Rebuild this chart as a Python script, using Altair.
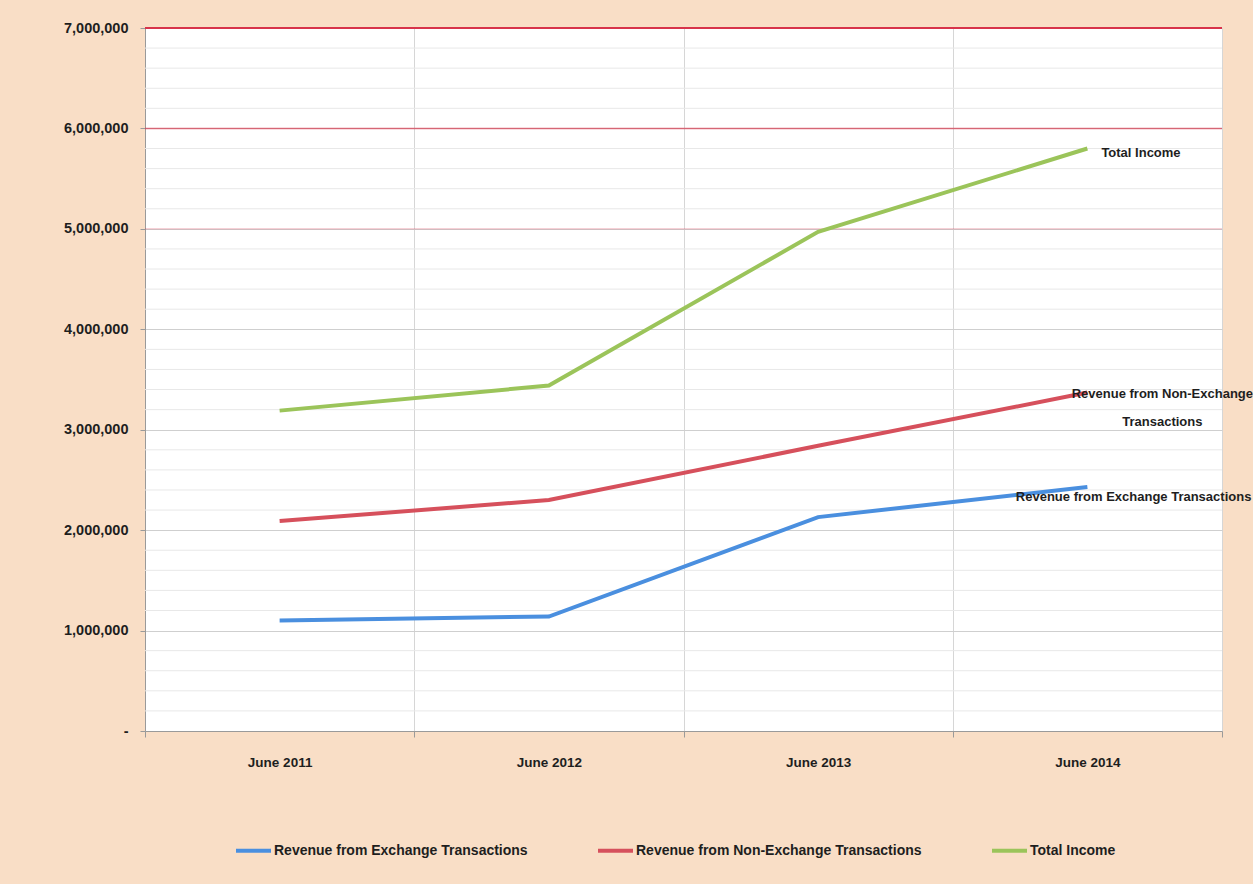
import altair as alt
import pandas as pd

# Reporting periods and the three income series
periods = ["June 2011", "June 2012", "June 2013", "June 2014"]
series_names = [
    "Revenue from Exchange Transactions",
    "Revenue from Non-Exchange Transactions",
    "Total Income",
]
exchange = [1_100_000, 1_140_000, 2_130_000, 2_430_000]
non_exchange = [2_090_000, 2_300_000, 2_840_000, 3_370_000]
total_income = [3_190_000, 3_440_000, 4_970_000, 5_800_000]

series_colors = ["#4a8fdf", "#d6505c", "#9bc45a"]
highlight_levels = [5_000_000, 6_000_000, 7_000_000]
major_ticks = list(range(0, 7_000_001, 1_000_000))
minor_ticks = [v for v in range(0, 7_000_001, 200_000) if v % 1_000_000]

rows = []
for name, vals in zip(series_names, [exchange, non_exchange, total_income]):
    for p, v in zip(periods, vals):
        rows.append({"period": p, "series": name, "value": v})
df = pd.DataFrame(rows)
levels_df = pd.DataFrame({"level": highlight_levels})
minor_df = pd.DataFrame({"level": minor_ticks})

FONT = "Liberation Sans, Arial, sans-serif"
TEXT_COLOR = "#1e1e1e"

y_scale = alt.Scale(domain=[0, 7_000_000], nice=False)
x_enc = alt.X(
    "period:N",
    sort=periods,
    scale=alt.Scale(type="band", paddingInner=0, paddingOuter=0),
    axis=alt.Axis(
        title=None,
        tickBand="extent",
        labelAngle=0,
        labelFont=FONT,
        labelFontSize=13.5,
        labelFontWeight="bold",
        labelColor=TEXT_COLOR,
        labelPadding=18,
        domainColor="#9a9a9a",
        tickColor="#9a9a9a",
        tickSize=6,
        grid=True,
        gridColor="#d6d6d6",
    ),
)
y_axis = alt.Axis(
    title=None,
    values=major_ticks,
    labelExpr="datum.value === 0 ? '-' : format(datum.value, ',')",
    labelOverlap=False,
    labelFont=FONT,
    labelFontSize=14.5,
    labelFontWeight="bold",
    labelColor=TEXT_COLOR,
    labelPadding=12,
    domainColor="#9a9a9a",
    tickColor="#9a9a9a",
    tickSize=5,
    gridColor="#cfcfcf",
    grid=True,
)

# Light minor gridlines every 200,000
minor_rules = alt.Chart(minor_df).mark_rule(color="#e8e8e8", strokeWidth=1).encode(
    y=alt.Y("level:Q", scale=y_scale, axis=y_axis)
)

# Emphasised red reference levels near the top
red_rules = alt.Chart(levels_df).mark_rule(color="#d8344a").encode(
    y=alt.Y("level:Q", scale=y_scale, axis=y_axis),
    strokeWidth=alt.StrokeWidth("level:Q", scale=alt.Scale(domain=[5_000_000, 7_000_000], range=[1, 2]), legend=None),
    strokeOpacity=alt.StrokeOpacity("level:Q", scale=alt.Scale(domain=[5_000_000, 7_000_000], range=[0.35, 1]), legend=None),
)

lines = alt.Chart(df).mark_line(strokeWidth=4).encode(
    x=x_enc,
    y=alt.Y("value:Q", scale=y_scale, axis=y_axis),
    color=alt.Color(
        "series:N",
        scale=alt.Scale(domain=series_names, range=series_colors),
        legend=alt.Legend(
            title=None,
            orient="none",
            legendX=89,
            legendY=803,
            direction="horizontal",
            columns=3,
            columnPadding=62,
            symbolType="stroke",
            symbolSize=1225,
            symbolStrokeWidth=4,
            labelFont=FONT,
            labelFontSize=14,
            labelFontWeight="bold",
            labelColor=TEXT_COLOR,
            labelLimit=400,
            labelOffset=1,
        ),
    ),
)

last = alt.Chart(df).transform_filter(alt.datum.period == periods[-1])
label_style = dict(font=FONT, fontSize=13, fontWeight="bold", color=TEXT_COLOR)

total_label = last.transform_filter(alt.datum.series == series_names[2]).mark_text(
    align="left", baseline="middle", dx=14, dy=4, **label_style
).encode(x=x_enc, y=alt.Y("value:Q", scale=y_scale), text="series:N")

non_exchange_label = last.transform_filter(alt.datum.series == series_names[1]).transform_calculate(
    label="replace(datum.series, 'Exchange Transactions', 'Exchange\\nTransactions')"
).mark_text(
    align="center", baseline="middle", dx=75, dy=1, lineBreak="\n", lineHeight=28, **label_style
).encode(x=x_enc, y=alt.Y("value:Q", scale=y_scale), text="label:N")

exchange_label = last.transform_filter(alt.datum.series == series_names[0]).transform_calculate(
    label="replace(datum.series, 'Exchange ', 'Exchange  ')"
).mark_text(
    align="right", baseline="middle", dx=164, dy=10, **label_style
).encode(x=x_enc, y=alt.Y("value:Q", scale=y_scale), text="label:N")

chart = (
    alt.layer(minor_rules, red_rules, lines, total_label, non_exchange_label, exchange_label)
    .properties(
        width=1077,
        height=703,
        background="#f9dec6",
        padding={"left": 145, "top": 28, "right": 31, "bottom": 153},
        autosize=alt.AutoSizeParams(type="none"),
    )
    .configure_view(fill="white", stroke=None)
)

chart.save("out.html", embed_options={"renderer": "svg", "actions": False})
